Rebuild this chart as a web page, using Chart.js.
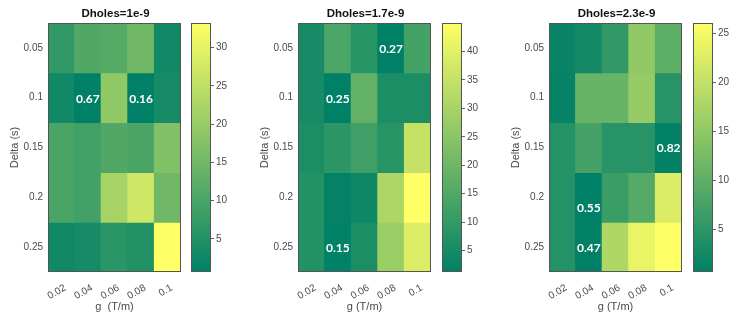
<!DOCTYPE html>
<html>
<head>
<meta charset="utf-8">
<script src="https://cdn.jsdelivr.net/npm/chart.js@4.4.0/dist/chart.umd.min.js"></script>
<style>
 body { margin: 0; background: #fff; }
 #wrap { position: relative; width: 741px; height: 329px; overflow: hidden; background: #fff; }
 canvas { position: absolute; top: 0; }
</style>
</head>
<body>
<div id="wrap"></div>
<script>
var gLabels = ["0.02", "0.04", "0.06", "0.08", "0.1"];
var deltaLabels = ["0.05", "0.1", "0.15", "0.2", "0.25"];
var titles = ["Dholes=1e-9", "Dholes=1.7e-9", "Dholes=2.3e-9"];
var xTitles = ["g  (T/m)", "g (T/m)", "g (T/m)"];

// one row per Delta (0.05 .. 0.25), one column per g
var values1 = [
 [7, 11, 11.5, 15, 3],
 [3, 0.67, 19, 0.7, 3.5],
 [10, 9, 11, 10, 17],
 [10, 9, 22, 27, 15],
 [3, 3.5, 6, 5, 33.2]
];
var values2 = [
 [5, 14, 8, 1.3, 13],
 [5, 1.25, 18, 6, 6],
 [6, 9, 12, 8, 35],
 [7, 2, 3.5, 31, 45],
 [7, 1.5, 6, 28, 39]
];
var values3 = [
 [1.5, 2.5, 5.5, 15, 10],
 [1.2, 11, 11, 15.5, 4.5],
 [4.2, 7.5, 4.5, 4.5, 0.8],
 [4.2, 0.6, 6.5, 9, 22.5],
 [4.2, 0.7, 18, 24, 26.1]
];

// colorbar ticks
var cbTicks1 = [5, 10, 15, 20, 25, 30];
var cbTicks2 = [5, 10, 15, 20, 25, 30, 35, 40];
var cbTicks3 = [5, 10, 15, 20, 25];

// labels written on cells: text, g index, Delta position (1 = 0.05)
var notes1 = [["0.67", 1, 2], ["0.16", 3, 2]];
var notes2 = [["0.27", 3, 1], ["0.25", 1, 2], ["0.15", 1, 5]];
var notes3 = [["0.82", 4, 3], ["0.55", 1, 4.2], ["0.47", 1, 5]];

var allValues = [values1, values2, values3];
var allTicks = [cbTicks1, cbTicks2, cbTicks3];
var allNotes = [notes1, notes2, notes3];

var heatLeft = [0, 250, 501];
var barLeft = [186, 437, 688];
var tickColor = "#4a4a4a";
var tickFont = { family: "'Liberation Sans', Arial", size: 10 };
var labelFont = { family: "'Liberation Sans', Arial", size: 11 };

// MATLAB "summer"
function summer(v, lo, hi) {
 var t = (v - lo) / (hi - lo);
 t = Math.max(0, Math.min(1, t));
 return "rgb(" + Math.round(255 * t) + "," + Math.round(128 + 127 * t) + ",102)";
}

var boxPlugin = {
 id: "box",
 afterDraw: function (chart) {
  var a = chart.chartArea;
  var c = chart.ctx;
  c.save();
  c.strokeStyle = "#555";
  c.lineWidth = 1;
  c.strokeRect(Math.round(a.left) + 0.5, Math.round(a.top) + 0.5, Math.round(a.right - a.left) - 1, Math.round(a.bottom - a.top) - 1);
  c.restore();
 }
};

var extrasPlugin = {
 id: "extras",
 afterDraw: function (chart, args, opts) {
  var a = chart.chartArea;
  var c = chart.ctx;
  c.save();
  c.fillStyle = "#111";
  c.font = "bold 11.5px 'Liberation Sans', Arial";
  c.textAlign = "center";
  c.textBaseline = "middle";
  c.fillText(opts.title, (a.left + a.right) / 2 + 1, 14);
  c.fillStyle = "#fff";
  c.font = "bold 12px Lato, 'Open Sans'";
  opts.notes.forEach(function (n) {
   var x = chart.scales.x.getPixelForValue(n[1]);
   var y = chart.scales.y.getPixelForValue(n[2]);
   c.fillText(n[0], x, y + 1);
  });
  c.restore();
 }
};

function makeCanvas(left, width) {
 var cv = document.createElement("canvas");
 cv.width = width;
 cv.height = 329;
 cv.style.left = left + "px";
 cv.style.width = width + "px";
 cv.style.height = "329px";
 document.getElementById("wrap").appendChild(cv);
 return cv;
}

function drawPanel(p) {
 var values = allValues[p];
 var lo = Infinity, hi = -Infinity;
 values.forEach(function (row) {
  row.forEach(function (v) {
   lo = Math.min(lo, v);
   hi = Math.max(hi, v);
  });
 });

 var datasets = values.map(function (row, r) {
  return {
   data: gLabels.map(function () {
    return [r + 0.5, r + 1.5];
   }),
   backgroundColor: row.map(function (v) {
    return summer(v, lo, hi);
   }),
  };
 });

 new Chart(makeCanvas(heatLeft[p], 190), {
  type: "bar",
  data: { labels: gLabels, datasets: datasets },
  plugins: [boxPlugin, extrasPlugin],
  options: {
   responsive: false,
   animation: false,
   layout: { padding: { top: 23, right: 9, left: 0, bottom: 0 } },
   datasets: {
    bar: { grouped: false, barPercentage: 1, categoryPercentage: 1, borderWidth: 0, inflateAmount: 0.5 },
   },
   plugins: {
    legend: { display: false },
    tooltip: { enabled: false },
    extras: { title: titles[p], notes: allNotes[p] },
   },
   scales: {
    x: {
     grid: { display: false, drawTicks: false },
     border: { display: false },
     ticks: { color: tickColor, font: tickFont, minRotation: 30, maxRotation: 30, padding: 10, labelOffset: 4 },
     title: { display: true, text: xTitles[p], color: tickColor, font: labelFont, padding: { top: 0, bottom: 15 } },
     afterFit: function (s) {
      s.height = 57;
     },
    },
    y: {
     type: "linear",
     reverse: true,
     min: 0.5,
     max: 5.5,
     grid: { display: false, drawTicks: false },
     border: { display: false },
     afterBuildTicks: function (s) {
      s.ticks = deltaLabels.map(function (d, i) {
       return { value: i + 1 };
      });
     },
     ticks: {
      color: tickColor,
      font: tickFont,
      padding: 5,
      callback: function (v) {
       return deltaLabels[v - 1];
      },
     },
     title: { display: true, text: "Delta (s)", color: tickColor, font: labelFont, padding: { top: 8 } },
     afterFit: function (s) {
      s.width = 48;
     },
    },
   },
  },
 });

 // colorbar
 var ticks = allTicks[p];
 new Chart(makeCanvas(barLeft[p], 55), {
  type: "bar",
  data: {
   labels: [""],
   datasets: [
    {
     data: [[lo, hi]],
     barPercentage: 1,
     categoryPercentage: 1,
     borderWidth: 0,
     backgroundColor: function (ctx) {
      var chart = ctx.chart;
      if (!chart.chartArea) return null;
      var y = chart.scales.y;
      var g = chart.ctx.createLinearGradient(0, y.getPixelForValue(lo), 0, y.getPixelForValue(hi));
      g.addColorStop(0, summer(lo, lo, hi));
      g.addColorStop(1, summer(hi, lo, hi));
      return g;
     },
    },
   ],
  },
  plugins: [boxPlugin],
  options: {
   responsive: false,
   animation: false,
   layout: { padding: { top: 23, bottom: 57, left: 5, right: 0 } },
   plugins: { legend: { display: false }, tooltip: { enabled: false } },
   scales: {
    x: { display: false },
    y: {
     position: "right",
     min: lo,
     max: hi,
     afterBuildTicks: function (s) {
      s.ticks = ticks.map(function (v) {
       return { value: v };
      });
     },
     grid: { drawOnChartArea: false, drawTicks: true, tickLength: 3, color: "#666" },
     border: { display: false },
     ticks: { color: tickColor, font: tickFont, padding: 2 },
     afterFit: function (s) {
      s.width = 30;
     },
    },
   },
  },
 });
}

[0, 1, 2].forEach(drawPanel);
</script>
</body>
</html>
